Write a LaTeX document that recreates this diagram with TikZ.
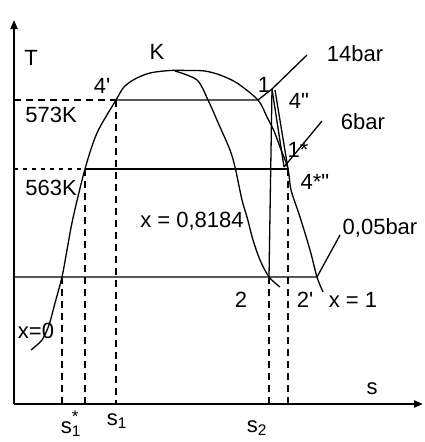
\documentclass[tikz,border=0pt]{standalone}
\usepackage{fontspec}
\setmainfont{Liberation Sans}
\usetikzlibrary{arrows.meta}
\begin{document}
\begin{tikzpicture}[x=1pt,y=-1pt,
  lbl/.style={inner sep=0pt, font=\fontsize{22}{26}\selectfont},
  axis/.style={line width=2pt, -{Triangle[length=9pt,width=7pt]}},
  ln/.style={line width=1.3pt},
  dsh/.style={line width=1.3pt, dash pattern=on 7pt off 5pt},
  dshs/.style={line width=1.3pt, dash pattern=on 4pt off 5pt},
  crv/.style={line width=1.3pt}]
\useasboundingbox (0,0) rectangle (425,442);
\fill[white] (0,0) rectangle (425,442);
% key points
\coordinate (O) at (14,404);
\coordinate (Ty) at (14,20);
\coordinate (Sx) at (423,404);
\coordinate (a573) at (14,100);
\coordinate (p4a) at (116,100);
\coordinate (q14) at (258,100);
\coordinate (p1) at (272,89);
\coordinate (p1b) at (275,90);
\coordinate (e14) at (307,55);
\coordinate (a563) at (14,169);
\coordinate (p563) at (85,169);
\coordinate (p4s) at (288,169);
\coordinate (p1s) at (284,167);
\coordinate (e6) at (322,121);
\coordinate (a005) at (14,277);
\coordinate (p0) at (62,277);
\coordinate (p2) at (269,277);
\coordinate (p2a) at (317,277);
\coordinate (e005) at (340,235);
\coordinate (f1) at (62,404);
\coordinate (f2) at (85,404);
\coordinate (f3) at (116,404);
\coordinate (f4) at (269,404);
\coordinate (f5) at (288,404);
% axes
\draw[axis] (O) -- (Ty);
\draw[axis] (O) -- (Sx);
% saturation dome (x=0 and x=1)
\draw[crv] plot[smooth] coordinates {(31,350) (42,340) (49,325) (55,303) (62,277) (67,250) (73,218) (85,169) (97,133) (116,100) (124,87) (135,79) (150,73) (170,70.5) (190,70.5) (205,71) (220,75) (237,83) (258,100) (267,117) (274,131) (280,147) (288,169) (291,190) (300,217) (310,250) (317,277) (323,292)};
% quality line x = 0,8184
\draw[crv] plot[smooth] coordinates {(175,71) (197,80) (208,100) (220,127) (230,150) (235,167) (242,200) (247,217) (253,240) (260,260) (269,277) (280,287)};
% isobars
\draw[dsh] (a573) -- (p4a);
\draw[ln] (p4a) -- (q14) -- (p1) -- (e14);
\draw[dshs] (a563) -- (p563);
\draw[ln] (p563) -- (p4s);
\draw[ln] (p1s) -- (e6);
\draw[ln] (a005) -- (p2a) -- (e005);
% process lines
\draw[ln] (p1) -- (p2);
\draw[ln] (p1) -- (p1s);
\draw[ln] (p1b) -- (p4s);
% dashed verticals
\draw[dsh] (p0) -- (f1);
\draw[dsh] (p563) -- (f2);
\draw[dsh] (p4a) -- (f3);
\draw[dsh] (p2) -- (f4);
\draw[dsh] (p4s) -- (f5);
% labels
\node[lbl] (lT) at (31,58) {T};
\node[lbl] (lK) at (157,52) {K};
\node[lbl] (l4a) at (102,86) {4\textquotesingle};
\node[lbl] (l573) at (51,115) {573K};
\node[lbl] (l563) at (51,188) {563K};
\node[lbl] (lx) at (192,221) {x = 0,8184};
\node[lbl] (l14) at (355,54) {14bar};
\node[lbl] (l1) at (264,85) {1};
\node[lbl] (l4b) at (299,101) {4\textquotedbl};
\node[lbl] (l6) at (363,122) {6bar};
\node[lbl] (l1s) at (298,150) {1*};
\node[lbl] (l4s) at (315,182) {4*\textquotedbl};
\node[lbl] (l005) at (380,228) {0,05bar};
\node[lbl] (l2) at (241,300) {2};
\node[lbl] (l2a) at (305,300) {2\textquotesingle};
\node[lbl] (lx1) at (353,300) {x = 1};
\node[lbl] (lx0) at (36,331) {x=0};
\node[lbl] (ls) at (372,389) {s};
\node[lbl] (ls1s) at (71,424) {s\rlap{\raisebox{0.9ex}{\fontsize{17}{17}\selectfont *}}\textsubscript{1}};
\node[lbl] (ls1) at (117,421) {s\textsubscript{1}};
\node[lbl] (ls2) at (257,428) {s\textsubscript{2}};
\end{tikzpicture}
\end{document}
